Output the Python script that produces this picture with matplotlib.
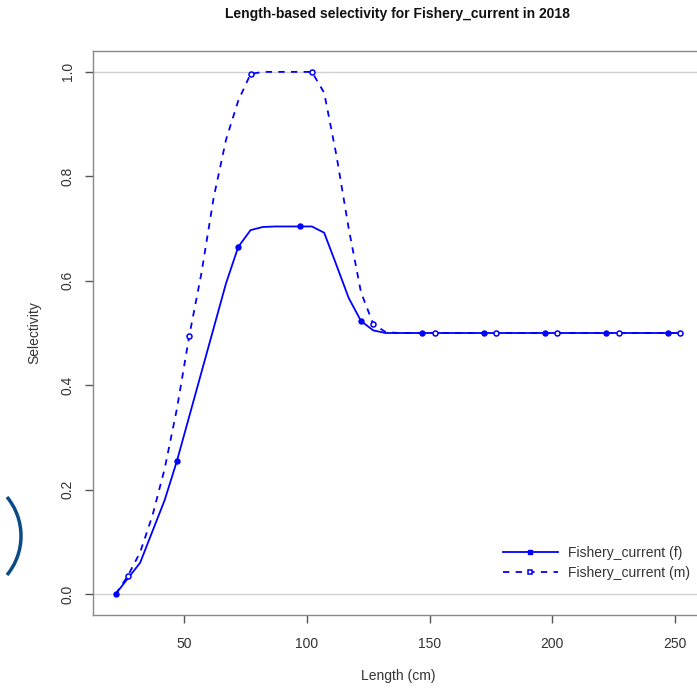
import matplotlib
matplotlib.use("Agg")
import matplotlib.pyplot as plt
from matplotlib.patches import Arc
from matplotlib.transforms import IdentityTransform
import numpy as np

plt.rcParams['font.family'] = ['Liberation Sans', 'DejaVu Sans']

lengths = list(range(22, 253, 5))
sel_female = [0.0, 0.03, 0.06, 0.12, 0.18, 0.255, 0.34, 0.425, 0.51, 0.595,
              0.665, 0.697, 0.703, 0.704, 0.704, 0.704, 0.704, 0.692, 0.63, 0.567,
              0.523, 0.505, 0.50] + [0.50] * 24
sel_male = [0.0, 0.035, 0.08, 0.15, 0.24, 0.355, 0.494, 0.615, 0.76, 0.87,
            0.945, 0.996, 1.0, 1.0, 1.0, 1.0, 1.0, 0.96, 0.84, 0.70,
            0.578, 0.517, 0.502] + [0.50] * 24
labels = ["Fishery_current (f)", "Fishery_current (m)"]
title = "Length-based selectivity for Fishery_current in 2018"
xticks = [50, 100, 150, 200, 250]
yticks = [0.0, 0.2, 0.4, 0.6, 0.8, 1.0]

W, H = 697, 688
fig = plt.figure(figsize=(W / 100, H / 100), dpi=100)
ax = fig.add_axes([93 / W, 1 - 615 / H, (702.6 - 93) / W, (615 - 51) / H])

blue = "#0000ff"
x = np.array(lengths)
f = np.array(sel_female)
m = np.array(sel_male)

ax.axhline(0, color="#d0d0d0", lw=1.0, zorder=1)
ax.axhline(1, color="#d0d0d0", lw=1.0, zorder=1)

ax.plot(x, f, color=blue, lw=1.3, ls="-", zorder=3)
ax.plot(x, m, color=blue, lw=1.3, ls=(0, (3.5, 3.5)), zorder=3)
ax.plot(x[0::5], f[0::5], ls="none", marker="o", ms=3.6, color=blue, zorder=4)
ax.plot(x[1::5], m[1::5], ls="none", marker="o", ms=3.6, mfc="white", mec=blue, mew=1.1, zorder=4)

# legend proxies
lf, = ax.plot([], [], color=blue, lw=1.3, ls="-", marker="s", ms=3.4)
lm, = ax.plot([], [], color=blue, lw=1.3, ls=(0, (3.5, 3.5)), marker="s", ms=3.4, mfc="white", mew=1.1)
leg = ax.legend([lf, lm], labels, loc="center left",
                bbox_to_anchor=(490 / W, 1 - 563 / H), bbox_transform=fig.transFigure,
                frameon=False, fontsize=10, handlelength=4.0, handletextpad=0.7,
                labelspacing=0.4)
for t in leg.get_texts():
    t.set_color("#333333")

ax.set_xlim(lengths[0] - 0.04 * (lengths[-1] - lengths[0]), lengths[-1] + 0.04 * (lengths[-1] - lengths[0]))
ax.set_ylim(-0.04, 1.04)
ax.set_xticks(xticks)
ax.set_yticks(yticks)
ax.set_yticklabels([f"{v:.1f}" for v in yticks], rotation=90, va="center")
ax.tick_params(axis="both", colors="#555555", labelcolor="#333333", labelsize=10,
               length=6, width=1.0, direction="out")
ax.tick_params(axis="x", pad=10)
ax.tick_params(axis="y", pad=7)
for s in ax.spines.values():
    s.set_color("#888888")
    s.set_linewidth(1.0)

ax.set_title(title, fontsize=10, fontweight="bold", pad=24, color="#111111")
ax.set_xlabel("Length (cm)", fontsize=10, color="#333333", labelpad=13)
ax.set_ylabel("Selectivity", fontsize=10, color="#333333", labelpad=14)

# decorative bracket artifact on the left edge
bracket = Arc((-40.3, H - 536), 2 * 61.3, 2 * 61.3, theta1=-39.5, theta2=39.5,
              color="#0a4a85", lw=2.5)
bracket.set_transform(IdentityTransform())
fig.patches.append(bracket)

fig.savefig("out.png", dpi=100)
